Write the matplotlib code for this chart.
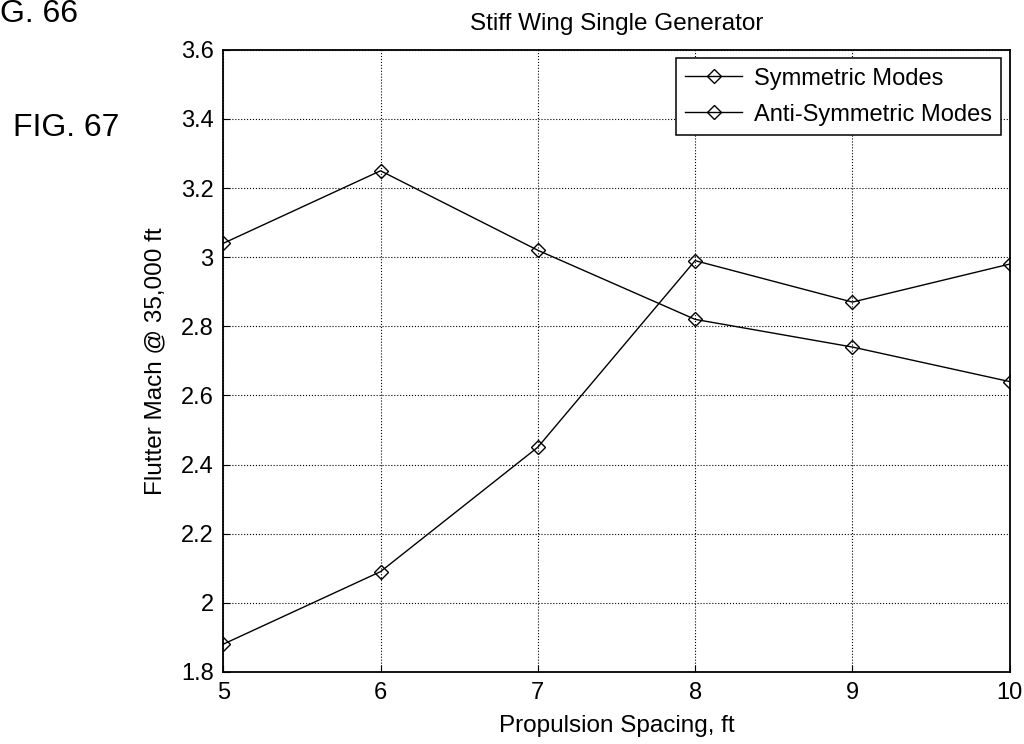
import matplotlib
matplotlib.use("Agg")
import matplotlib.pyplot as plt

plt.rcParams['font.family'] = ['Liberation Sans', 'DejaVu Sans']

# propulsion spacing (ft)
spacing = [5, 6, 7, 8, 9, 10]
# flutter Mach @ 35,000 ft
symmetric = [1.88, 2.09, 2.45, 2.99, 2.87, 2.98]
anti_symmetric = [3.04, 3.25, 3.02, 2.82, 2.74, 2.64]

x_ticks = [5, 6, 7, 8, 9, 10]
y_ticks = [1.8, 2, 2.2, 2.4, 2.6, 2.8, 3, 3.2, 3.4, 3.6]
y_labels = ['1.8', '2', '2.2', '2.4', '2.6', '2.8', '3', '3.2', '3.4', '3.6']

fs = 17

fig = plt.figure(figsize=(10.24, 7.44), dpi=100)
ax = fig.add_axes([0.218, 0.097, 0.768, 0.836])

ax.plot(spacing, symmetric, color='black', linewidth=1.0, marker='D',
        markersize=7.5, markerfacecolor='none', markeredgewidth=1.0,
        label='Symmetric Modes')
ax.plot(spacing, anti_symmetric, color='black', linewidth=1.0, marker='D',
        markersize=7.5, markerfacecolor='none', markeredgewidth=1.0,
        label='Anti-Symmetric Modes')

ax.set_xlim(5, 10)
ax.set_ylim(1.8, 3.6)
ax.set_xticks(x_ticks)
ax.set_yticks(y_ticks)
ax.set_yticklabels(y_labels)
ax.tick_params(labelsize=fs, direction='in', length=5, pad=7)
ax.grid(True, color='black', linestyle=':', linewidth=0.8)
for s in ax.spines.values():
    s.set_linewidth(1.3)

ax.set_title('Stiff Wing Single Generator', fontsize=fs + 0.5, pad=14)
ax.set_xlabel('Propulsion Spacing, ft', fontsize=fs + 0.5, labelpad=8)
ax.set_ylabel('Flutter Mach @ 35,000 ft', fontsize=fs + 0.5, labelpad=10)

leg = ax.legend(loc='upper right', fontsize=fs, fancybox=False,
                framealpha=1, edgecolor='black', borderaxespad=0.35,
                handlelength=2.4, handletextpad=0.5, borderpad=0.4,
                labelspacing=0.6, markerscale=0.9)
leg.get_frame().set_linewidth(1.1)

# figure captions (the upper one is cut at the page edge in the scan)
fig.text(0.0, 0.970, 'G. 66', fontsize=23, va='baseline', ha='left')
fig.text(0.0127, 0.828, 'FIG. 67', fontsize=23, va='center', ha='left')

fig.savefig('out.png', dpi=100)
